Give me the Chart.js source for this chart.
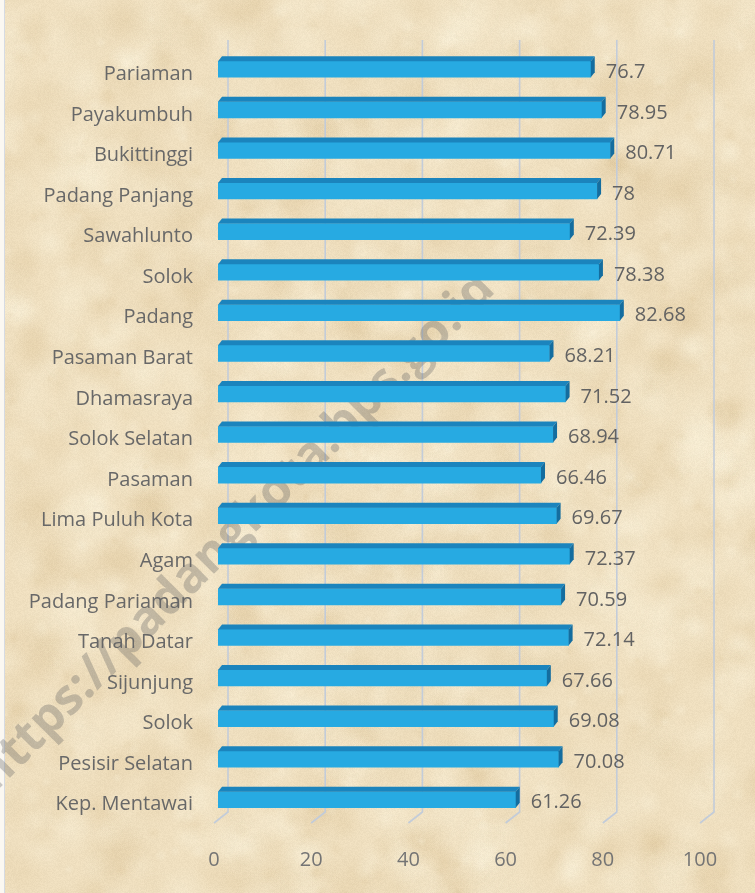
<!DOCTYPE html>
<html>
<head>
<meta charset="utf-8">
<script src="https://cdn.jsdelivr.net/npm/chart.js@4.4.1/dist/chart.umd.min.js"></script>
<style>
  html, body { margin: 0; padding: 0; background: #fbf8f2; }
  #wrap { position: relative; width: 755px; height: 893px; }
  #bg, #chart { position: absolute; left: 0; top: 0; }
</style>
</head>
<body>
<div id="wrap">
  <canvas id="bg" width="755" height="893"></canvas>
  <canvas id="chart" width="755" height="893"></canvas>
</div>
<script>
(function () {
    "use strict";

    // Data
    var categories = ['Pariaman', 'Payakumbuh', 'Bukittinggi', 'Padang Panjang', 'Sawahlunto', 'Solok',
        'Padang', 'Pasaman Barat', 'Dhamasraya', 'Solok Selatan', 'Pasaman', 'Lima Puluh Kota', 'Agam',
        'Padang Pariaman', 'Tanah Datar', 'Sijunjung', 'Solok', 'Pesisir Selatan', 'Kep. Mentawai'];
    var values = [76.7, 78.95, 80.71, 78, 72.39, 78.38, 82.68, 68.21, 71.52, 68.94, 66.46, 69.67, 72.37,
        70.59, 72.14, 67.66, 69.08, 70.08, 61.26];
    var xTicks = [0, 20, 40, 60, 80, 100];
    var watermark = 'https://padangkota.bps.go.id';


    // Parchment background (decoration only)
    var bg = document.getElementById('bg').getContext('2d');
    var seed = 11;
    var rnd = function () {
        seed = (seed * 16807) % 2147483647;
        return (seed - 1) / 2147483646;
    };
    bg.fillStyle = '#efdfbf';
    bg.fillRect(0, 0, 755, 893);
    for (var i = 0; i < 1600; i++) {
        var cx = rnd() * 780 - 10, cy = rnd() * 920 - 10, r = 4 + rnd() * 30;
        var dark = rnd() < 0.5;
        var g = bg.createRadialGradient(cx, cy, 0, cx, cy, r);
        g.addColorStop(0, dark ? 'rgba(200,168,112,0.11)' : 'rgba(255,250,232,0.2)');
        g.addColorStop(1, dark ? 'rgba(200,168,112,0)' : 'rgba(255,250,232,0)');
        bg.fillStyle = g;
        bg.fillRect(cx - r, cy - r, r * 2, r * 2);
    }
    var img = bg.getImageData(0, 0, 755, 893);
    for (var p = 0; p < img.data.length; p += 4) {
        var n = (rnd() - 0.5) * 8;
        img.data[p] += n; img.data[p + 1] += n; img.data[p + 2] += n;
    }
    bg.putImageData(img, 0, 0);
    bg.fillStyle = '#fbf8f2';
    bg.fillRect(0, 0, 4, 893);
    bg.fillStyle = '#d6dbe3';
    bg.fillRect(4, 0, 1, 893);


    // Back walls, floor edges and watermark
    var gridPlugin = {
        id: 'grid3d',
        beforeDatasetsDraw: function (chart) {
            var ctx = chart.ctx, xs = chart.scales.x, area = chart.chartArea;
            ctx.save();
            ctx.strokeStyle = 'rgba(192,202,218,0.95)';
            ctx.lineWidth = 1.6;
            xTicks.forEach(function (v) {
                var px = xs.getPixelForValue(v);
                ctx.beginPath();
                ctx.moveTo(px + 10, area.top - 9);
                ctx.lineTo(px + 10, area.bottom - 8);
                ctx.lineTo(px - 4, area.bottom + 3);
                ctx.stroke();
            });
            ctx.translate(236, 532);
            ctx.rotate(-45 * Math.PI / 180);
            ctx.font = 'bold 49px "Open Sans"';
            ctx.fillStyle = 'rgba(100,100,100,0.33)';
            ctx.textAlign = 'center';
            ctx.textBaseline = 'middle';
            ctx.fillText(watermark, 0, 0);
            ctx.restore();
        }
    };

    // 3D faces and value labels
    var barPlugin = {
        id: 'bars3d',
        afterDatasetsDraw: function (chart) {
            var ctx = chart.ctx, dx = 4, dy = 5;
            ctx.save();
            chart.getDatasetMeta(0).data.forEach(function (bar, i) {
                var x0 = bar.base, x1 = bar.x, top = bar.y - bar.height / 2, bottom = bar.y + bar.height / 2;
                ctx.fillStyle = '#1b84bd';
                ctx.beginPath();
                ctx.moveTo(x0, top);
                ctx.lineTo(x0 + dx, top - dy);
                ctx.lineTo(x1 + dx, top - dy);
                ctx.lineTo(x1, top);
                ctx.closePath();
                ctx.fill();
                ctx.fillStyle = '#146d9f';
                ctx.beginPath();
                ctx.moveTo(x1, top);
                ctx.lineTo(x1 + dx, top - dy);
                ctx.lineTo(x1 + dx, bottom - dy);
                ctx.lineTo(x1, bottom);
                ctx.closePath();
                ctx.fill();

                ctx.fillStyle = '#626262';
                ctx.font = '20px "Open Sans"';
                ctx.textAlign = 'left';
                ctx.textBaseline = 'middle';
                ctx.fillText(String(values[i]), x1 + 15, bar.y + 3);
            });
            ctx.restore();
        }
    };


    var ctx1 = document.getElementById('chart').getContext('2d');
    var myChart1 = new Chart(ctx1, {
        type: 'bar',
        data: {
            labels: categories,
            datasets: [{
                data: values,
                backgroundColor: '#27aae2',
                barThickness: 16,
                borderWidth: 0
            }]
        },
        options: {
            indexAxis: 'y',
            responsive: false,
            animation: false,
            layout: { padding: { top: 49, right: 51, bottom: 0, left: 0 } },
            plugins: {
                legend: { display: false },
                tooltip: { enabled: false }
            },
            scales: {
                x: {
                    min: 0,
                    max: 100,
                    afterFit: function (scale) { scale.height = 73; },
                    grid: { display: false },
                    border: { display: false },
                    ticks: {
                        stepSize: 20,
                        labelOffset: -4,
                        padding: 20,
                        color: '#747474',
                        font: { family: 'Open Sans', size: 20 }
                    }
                },
                y: {
                    afterFit: function (scale) { scale.width = 218; },
                    grid: { display: false, drawTicks: false },
                    border: { display: false },
                    ticks: {
                        autoSkip: false,
                        padding: 25,
                        labelOffset: 5,
                        color: '#686868',
                        font: { family: 'Open Sans', size: 20 }
                    }
                }
            }
        },
        plugins: [gridPlugin, barPlugin]
    });

})();
</script>
</body>
</html>
